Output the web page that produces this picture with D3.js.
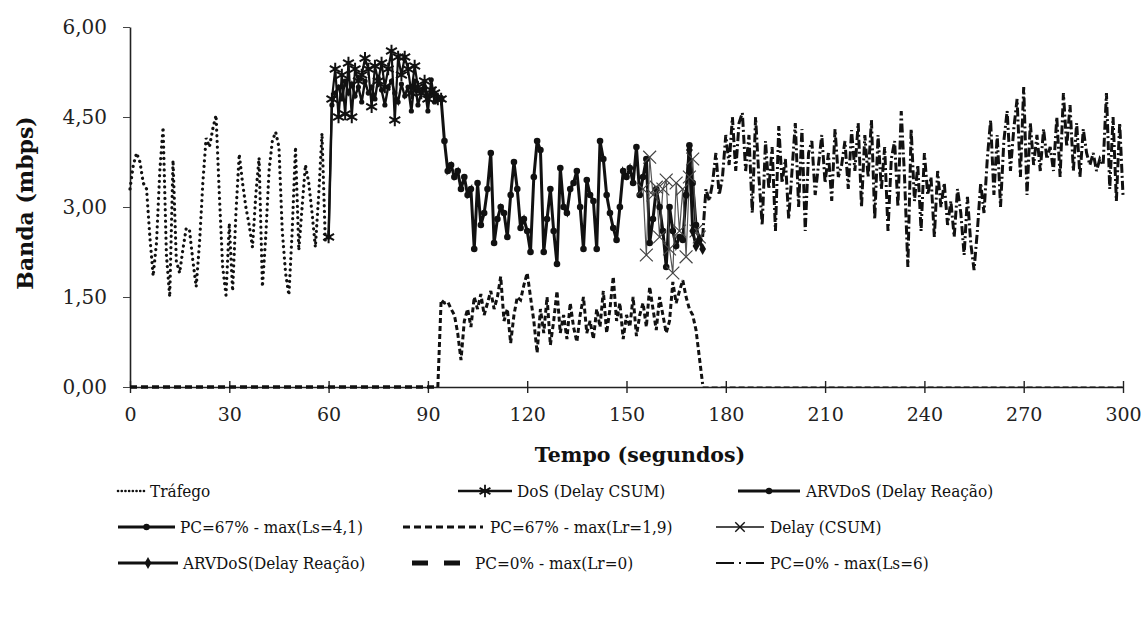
<!DOCTYPE html>
<html>
<head>
<meta charset="utf-8">
<script src="https://cdn.jsdelivr.net/npm/d3@7"></script>
<style>
  body { margin: 0; background: #fff; }
</style>
</head>
<body>
<svg id="chart"></svg>
<script>
// eixos
const xTicks = [0, 30, 60, 90, 120, 150, 180, 210, 240, 270, 300];
const yTicks = [0, 1.5, 3, 4.5, 6];

// Tráfego, t = 0..60
const trafegoStart = 0;
const trafego = [3.3, 3.7, 3.9, 3.75, 3.4, 3.3, 2.5, 1.85, 2.4, 3.6, 4.33, 2.2, 1.5, 3.78, 2.1, 1.9,
  2.3, 2.65, 2.6, 2.1, 1.67, 2.4, 3.4, 4.15, 4.0, 4.3, 4.53, 3.2, 2.0, 1.53, 2.73, 1.6, 2.9, 3.88,
  3.4, 3.0, 2.7, 2.33, 3.2, 3.82, 1.67, 2.5, 3.6, 4.1, 4.25, 4.0, 2.6, 1.9, 1.53, 2.6, 4.0, 2.28,
  3.0, 3.7, 3.4, 2.9, 2.33, 3.2, 4.23, 2.45, 2.5];

// DoS (Delay CSUM), t = 60..94
const dosStart = 60;
const dosCsum = [2.5, 4.8, 5.3, 4.5, 5.2, 4.55, 5.4, 4.5, 5.3, 5.1, 5.2, 5.48, 5.3, 4.67, 5.35, 5.1,
  5.4, 5.0, 5.3, 5.6, 4.45, 5.5, 5.2, 5.5, 5.3, 4.9, 5.35, 5.0, 4.9, 5.1, 4.8, 4.95, 4.9, 4.8, 4.8];

// ARVDoS (Delay Reação), t = 60..94
const arvdosStart = 60;
const arvdos = [2.5, 4.7, 4.9, 5.0, 4.8, 5.1, 4.9, 5.05, 4.85, 5.0, 4.75, 5.1, 4.9, 5.0, 4.8, 5.15,
  4.95, 4.7, 5.0, 5.1, 4.9, 4.75, 5.05, 4.85, 5.0, 4.6, 5.1, 4.7, 4.9, 5.0, 4.6, 5.12, 4.75, 4.8, 4.8];

// PC=67% - max(Ls=4,1), t = 94..172
const pc67LsStart = 94;
const pc67Ls = [4.8, 4.1, 3.6, 3.7, 3.5, 3.6, 3.3, 3.5, 3.2, 3.3, 2.3, 3.4, 2.7, 2.9, 3.3, 3.9, 2.4,
  2.8, 3.0, 2.9, 2.5, 3.2, 3.75, 3.3, 2.65, 2.8, 2.6, 2.25, 3.5, 4.1, 3.95, 2.25, 2.8, 3.3, 2.6, 2.05,
  3.65, 3.0, 2.9, 3.3, 3.4, 3.6, 3.0, 2.3, 3.45, 3.2, 3.1, 2.3, 4.1, 3.8, 3.2, 2.9, 2.65, 2.45, 3.0,
  3.6, 3.5, 3.65, 3.4, 4.0, 3.2, 3.5, 3.8, 2.4, 2.8, 3.3, 3.0, 2.6, 2.0, 3.0, 2.6, 2.35, 2.5, 2.45,
  3.2, 4.03, 3.4, 2.7, 2.45];

// PC=67% - max(Lr=1,9), t = 93..173
const pc67LrStart = 93;
const pc67Lr = [0, 1.45, 1.4, 1.42, 1.3, 1.2, 0.9, 0.45, 1.1, 1.3, 1.0, 1.5, 1.3, 1.55, 1.2, 1.4,
  1.6, 1.3, 1.5, 1.84, 1.1, 1.3, 0.73, 1.2, 1.5, 1.45, 1.7, 1.9, 1.5, 1.1, 0.57, 1.3, 0.9, 1.5, 0.7,
  1.1, 1.6, 0.9, 1.2, 0.8, 1.4, 1.0, 0.75, 1.2, 1.5, 0.9, 1.1, 0.8, 1.3, 1.0, 1.6, 0.9, 1.3, 1.84,
  1.1, 1.4, 0.8, 1.2, 1.0, 1.5, 0.85, 1.2, 1.4, 1.0, 1.67, 1.3, 0.95, 1.5, 1.2, 0.9, 1.1, 1.75, 1.4,
  1.6, 1.78, 1.5, 1.3, 1.2, 0.95, 0.5, 0.05];
// trecho em zero depois do ataque
const pc67LrTailTimes = [173, 300];
const pc67LrTail = [0, 0];

// Delay (CSUM), t = 155..172
const delayStart = 155;
const delayCsum = [3.3, 2.2, 3.83, 3.2, 3.33, 2.5, 3.3, 3.45, 2.3, 1.9, 3.4, 2.6, 3.3, 2.17, 3.5,
  3.8, 2.6, 2.5];

// ARVDoS(Delay Reação), t = 168..173
const arvdos2Start = 168;
const arvdos2 = [3.2, 3.95, 2.6, 2.35, 2.45, 2.3];

// PC=0% - max(Lr=0), t = 0..93
const pc0LrTimes = [0, 93];
const pc0Lr = [0, 0];

// PC=0% - max(Ls=6), t = 173..300
const pc0LsStart = 173;
const pc0Ls = [2.5, 3.3, 3.1, 3.4, 3.9, 3.2, 3.5, 4.2, 3.7, 4.5, 3.6, 4.4, 4.57, 3.6, 4.2, 2.9, 4.5,
  3.5, 2.7, 4.1, 3.3, 4.0, 2.6, 4.35, 3.4, 3.8, 2.8, 3.6, 4.4, 3.0, 4.3, 2.6, 3.9, 4.1, 3.2, 3.7,
  4.2, 3.4, 3.9, 3.1, 4.3, 3.5, 3.7, 4.1, 3.3, 4.28, 3.6, 4.4, 3.0, 4.2, 3.5, 4.45, 2.8, 4.2, 3.3,
  4.0, 2.6, 3.8, 4.1, 3.0, 4.6, 3.5, 2.0, 4.3, 3.1, 3.7, 2.6, 3.9, 3.2, 3.5, 2.5, 3.6, 3.0, 3.4,
  2.7, 3.1, 2.5, 3.3, 2.9, 2.2, 3.17, 2.4, 1.95, 2.6, 3.4, 2.9, 3.8, 4.45, 3.2, 4.2, 3.0, 4.1, 4.6,
  3.6, 4.3, 4.8, 3.5, 5.0, 3.2, 4.4, 3.7, 4.2, 3.6, 4.3, 3.8, 4.0, 3.6, 4.5, 3.5, 4.9, 4.0, 4.7,
  3.6, 4.4, 3.5, 4.3, 3.9, 3.7, 3.9, 3.6, 3.8, 3.7, 4.9, 3.3, 4.5, 3.1, 4.4, 3.2];

const width = 1146, height = 640;
const marginLeft = 130, marginRight = 23, marginTop = 27, marginBottom = 253;

const svg = d3.select("#chart")
  .attr("width", width)
  .attr("height", height)
  .attr("viewBox", [0, 0, width, height])
  .style("font-family", "'DejaVu Serif', serif");

const x = d3.scaleLinear().domain([0, 300]).range([marginLeft, width - marginRight]);
const y = d3.scaleLinear().domain([0, 6]).range([height - marginBottom, marginTop]);

const br = d3.formatLocale({ decimal: ",", thousands: ".", grouping: [3], currency: ["R$", ""] });
const fmtY = br.format(".2f");

function series(start, values) {
  return values.map((v, i) => [start + i, v]);
}
function pairs(times, values) {
  return times.map((t, i) => [t, values[i]]);
}

const line = d3.line().x(d => x(d[0])).y(d => y(d[1]));

// eixo Y
svg.append("g")
  .attr("transform", `translate(${marginLeft},0)`)
  .call(d3.axisLeft(y).tickValues(yTicks).tickFormat(fmtY).tickSizeInner(7).tickSizeOuter(0).tickPadding(16))
  .call(g => g.select(".domain").attr("stroke", "#222").attr("stroke-width", 1.6))
  .call(g => g.selectAll(".tick line").attr("stroke", "#444"))
  .call(g => g.selectAll(".tick text").attr("font-size", 20).attr("fill", "#222").attr("font-family", "'DejaVu Serif', serif"));

// eixo X
svg.append("g")
  .attr("transform", `translate(0,${y(0)})`)
  .call(d3.axisBottom(x).tickValues(xTicks).tickSizeInner(6).tickSizeOuter(0).tickPadding(15))
  .call(g => g.select(".domain").attr("stroke", "#222").attr("stroke-width", 1.4))
  .call(g => g.selectAll(".tick line").attr("y1", -6).attr("stroke", "#222").attr("stroke-width", 1.4))
  .call(g => g.selectAll(".tick text").attr("font-size", 19).attr("fill", "#222").attr("font-family", "'DejaVu Serif', serif"));

// linhas
const plot = svg.append("g").attr("fill", "none").attr("stroke", "#111");

plot.append("path")
  .attr("d", line(series(trafegoStart, trafego)))
  .attr("stroke-width", 3.2)
  .attr("stroke-linecap", "round")
  .attr("stroke-dasharray", "0.1,5.6");

plot.append("path")
  .attr("d", line(pairs(pc0LrTimes, pc0Lr)))
  .attr("stroke-width", 3.6)
  .attr("stroke-dasharray", "7,4");

plot.append("path")
  .attr("d", line(series(pc67LrStart, pc67Lr)))
  .attr("stroke-width", 3)
  .attr("stroke-dasharray", "5,3");

plot.append("path")
  .attr("d", line(pairs(pc67LrTailTimes, pc67LrTail)))
  .attr("stroke-width", 1.2)
  .attr("stroke-dasharray", "6,3");

plot.append("path")
  .attr("d", line(series(pc0LsStart, pc0Ls)))
  .attr("stroke-width", 3)
  .attr("stroke-dasharray", "9,3,2,3");

plot.append("path")
  .attr("d", line(series(arvdosStart, arvdos)))
  .attr("stroke-width", 2.4);

plot.append("path")
  .attr("d", line(series(dosStart, dosCsum)))
  .attr("stroke-width", 2.2);

plot.append("path")
  .attr("d", line(series(pc67LsStart, pc67Ls)))
  .attr("stroke-width", 3);

plot.append("path")
  .attr("d", line(series(delayStart, delayCsum)))
  .attr("stroke", "#555")
  .attr("stroke-width", 1.2);

plot.append("path")
  .attr("d", line(series(arvdos2Start, arvdos2)))
  .attr("stroke-width", 3);

// marcadores
const asterisk = d3.symbol(d3.symbolAsterisk, 110);
const times = d3.symbol(d3.symbolTimes, 110);
const diamond = d3.symbol(d3.symbolDiamond, 40);

svg.append("g").selectAll("circle")
  .data(series(arvdosStart, arvdos))
  .join("circle")
  .attr("cx", d => x(d[0])).attr("cy", d => y(d[1])).attr("r", 2.6).attr("fill", "#111");

svg.append("g").selectAll("path")
  .data(series(dosStart, dosCsum))
  .join("path")
  .attr("transform", d => `translate(${x(d[0])},${y(d[1])})`)
  .attr("d", asterisk)
  .attr("fill", "none").attr("stroke", "#111").attr("stroke-width", 2);

svg.append("g").selectAll("circle")
  .data(series(pc67LsStart, pc67Ls))
  .join("circle")
  .attr("cx", d => x(d[0])).attr("cy", d => y(d[1])).attr("r", 3.3).attr("fill", "#111");

svg.append("g").selectAll("path")
  .data(series(delayStart, delayCsum))
  .join("path")
  .attr("transform", d => `translate(${x(d[0])},${y(d[1])})`)
  .attr("d", times)
  .attr("fill", "none").attr("stroke", "#444").attr("stroke-width", 1.2);

svg.append("g").selectAll("path")
  .data(series(arvdos2Start, arvdos2))
  .join("path")
  .attr("transform", d => `translate(${x(d[0])},${y(d[1])})`)
  .attr("d", diamond)
  .attr("fill", "#111");

// títulos dos eixos
svg.append("text")
  .attr("transform", `translate(33,${(y(0) + y(6)) / 2 - 4}) rotate(-90)`)
  .attr("text-anchor", "middle")
  .attr("font-size", 22)
  .attr("font-weight", "bold")
  .attr("fill", "#111")
  .text("Banda (mbps)");

svg.append("text")
  .attr("x", 640)
  .attr("y", 462)
  .attr("text-anchor", "middle")
  .attr("font-size", 20.5)
  .attr("font-weight", "bold")
  .attr("fill", "#111")
  .text("Tempo (segundos)");

// legenda
const legendFont = "'DejaVu Serif Condensed', 'DejaVu Serif', serif";
const legendItems = [
  { x0: 118, x1: 146, y: 491, tx: 150, label: "Tráfego", dash: "0.1,3.6", w: 2.6, cap: "round" },
  { x0: 458, x1: 512, y: 491, tx: 517, label: "DoS (Delay CSUM)", w: 2.4, mark: "asterisk" },
  { x0: 738, x1: 800, y: 491, tx: 806, label: "ARVDoS (Delay Reação)", w: 3.2, mark: "dot" },
  { x0: 118, x1: 175, y: 527, tx: 180, label: "PC=67% - max(Ls=4,1)", w: 3.2, mark: "dot" },
  { x0: 403, x1: 483, y: 527, tx: 490, label: "PC=67% - max(Lr=1,9)", w: 2.8, dash: "7,4" },
  { x0: 716, x1: 764, y: 527, tx: 770, label: "Delay (CSUM)", w: 1.6, mark: "times" },
  { x0: 118, x1: 178, y: 563, tx: 183, label: "ARVDoS(Delay Reação)", w: 3.2, mark: "diamond" },
  { x0: 412, x1: 462, y: 563, tx: 475, label: "PC=0% - max(Lr=0)", w: 5, dash: "16,16" },
  { x0: 716, x1: 765, y: 563, tx: 770, label: "PC=0% - max(Ls=6)", w: 2, dash: "18,5,2,5" }
];

const leg = svg.append("g");
legendItems.forEach(it => {
  const g = leg.append("g");
  g.append("line")
    .attr("x1", it.x0).attr("x2", it.x1).attr("y1", it.y).attr("y2", it.y)
    .attr("stroke", "#111").attr("stroke-width", it.w)
    .attr("stroke-linecap", it.cap || "butt")
    .attr("stroke-dasharray", it.dash || null);
  const cx = (it.x0 + it.x1) / 2;
  if (it.mark === "asterisk") {
    g.append("path").attr("transform", `translate(${cx},${it.y})`).attr("d", asterisk)
      .attr("fill", "none").attr("stroke", "#111").attr("stroke-width", 1.8);
  } else if (it.mark === "dot") {
    g.append("circle").attr("cx", cx).attr("cy", it.y).attr("r", 3.2).attr("fill", "#111");
  } else if (it.mark === "times") {
    g.append("path").attr("transform", `translate(${cx},${it.y})`).attr("d", d3.symbol(d3.symbolTimes, 60))
      .attr("fill", "none").attr("stroke", "#111").attr("stroke-width", 1.4);
  } else if (it.mark === "diamond") {
    g.append("path").attr("transform", `translate(${cx},${it.y})`).attr("d", diamond).attr("fill", "#111");
  }
  g.append("text")
    .attr("x", it.tx).attr("y", it.y).attr("dy", "0.35em")
    .attr("font-size", 17)
    .attr("font-family", legendFont)
    .attr("fill", "#111")
    .text(it.label);
});
</script>
</body>
</html>
